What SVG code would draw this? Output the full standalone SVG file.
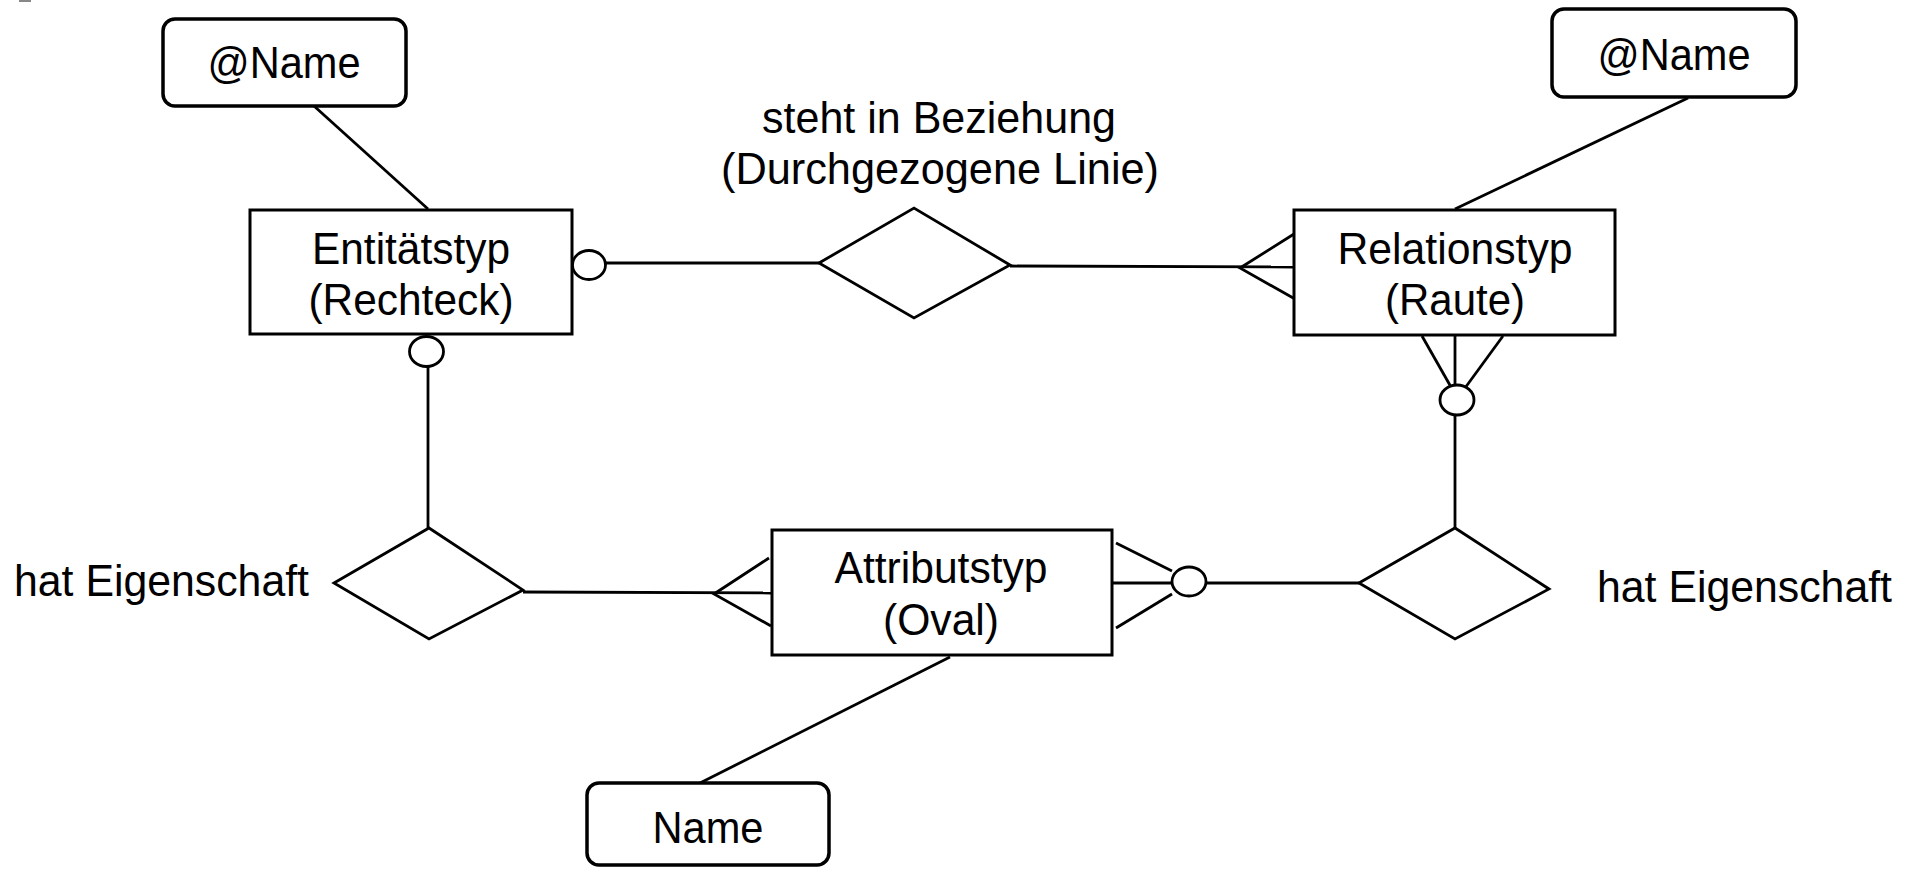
<svg xmlns="http://www.w3.org/2000/svg" width="1918" height="869" viewBox="0 0 1918 869">
<style>
.box{fill:#fff;stroke:#000;stroke-width:3}
.rbox{fill:#fff;stroke:#000;stroke-width:3.5}
.dia{fill:none;stroke:#000;stroke-width:2.8;stroke-linejoin:miter}
.ln{fill:none;stroke:#000;stroke-width:2.8}
.circ{fill:#fff;stroke:#000;stroke-width:2.8}
.t{font-family:"Liberation Sans",Arial,sans-serif;font-size:44px;fill:#000;text-anchor:middle}
.tl{font-family:"Liberation Sans",Arial,sans-serif;font-size:44px;fill:#000;text-anchor:start}
</style>
<rect width="1918" height="869" fill="#fff"/>
<rect x="19" y="0" width="12" height="2" fill="#888"/>
<g id="connectors">
  <line class="ln" x1="314" y1="106" x2="428" y2="209"/>
  <line class="ln" x1="1688" y1="98" x2="1455" y2="209"/>
  <line class="ln" x1="606" y1="263" x2="819" y2="263"/>
  <line class="ln" x1="1010" y1="266" x2="1294" y2="267"/>
  <polyline class="ln" points="1294,234 1240,268 1295,299"/>
  <line class="ln" x1="428" y1="366" x2="428" y2="528"/>
  <line class="ln" x1="1422" y1="336" x2="1451" y2="387"/>
  <line class="ln" x1="1455" y1="336" x2="1455" y2="385"/>
  <line class="ln" x1="1503" y1="336" x2="1465" y2="388"/>
  <line class="ln" x1="1455" y1="415" x2="1455" y2="528"/>
  <line class="ln" x1="523" y1="592" x2="771" y2="593"/>
  <polyline class="ln" points="769,558 714,594 771,626"/>
  <line class="ln" x1="1116" y1="543" x2="1172" y2="571"/>
  <line class="ln" x1="1112" y1="583" x2="1172" y2="583"/>
  <line class="ln" x1="1116" y1="628" x2="1172" y2="594"/>
  <line class="ln" x1="1206" y1="583" x2="1359" y2="583"/>
  <line class="ln" x1="950" y1="657" x2="700" y2="783"/>
</g>
<g id="name-entity">
  <rect class="rbox" x="163" y="19" width="243" height="87" rx="12"/>
  <text class="t" x="284" y="78" textLength="153" lengthAdjust="spacingAndGlyphs">@Name</text>
</g>
<g id="name-relation">
  <rect class="rbox" x="1552" y="9" width="244" height="88" rx="12"/>
  <text class="t" x="1674" y="70" textLength="153" lengthAdjust="spacingAndGlyphs">@Name</text>
</g>
<g id="name-attribute">
  <rect class="rbox" x="587" y="783" width="242" height="82" rx="12"/>
  <text class="t" x="708" y="843" textLength="111" lengthAdjust="spacingAndGlyphs">Name</text>
</g>
<g id="entitaetstyp">
  <rect class="box" x="250" y="210" width="322" height="124"/>
  <text class="t" x="411" y="264" textLength="198" lengthAdjust="spacingAndGlyphs">Entitätstyp</text>
  <text class="t" x="411" y="315" textLength="205" lengthAdjust="spacingAndGlyphs">(Rechteck)</text>
  <ellipse class="circ" cx="589" cy="265" rx="16.5" ry="14.5"/>
  <ellipse class="circ" cx="426.5" cy="351.5" rx="17" ry="15"/>
</g>
<g id="relationstyp">
  <rect class="box" x="1294" y="210" width="321" height="125"/>
  <text class="t" x="1455" y="264" textLength="235" lengthAdjust="spacingAndGlyphs">Relationstyp</text>
  <text class="t" x="1455" y="315" textLength="140" lengthAdjust="spacingAndGlyphs">(Raute)</text>
  <ellipse class="circ" cx="1457" cy="400" rx="17" ry="15"/>
</g>
<g id="attributstyp">
  <rect class="box" x="772" y="530" width="340" height="125"/>
  <text class="t" x="941" y="583" textLength="213" lengthAdjust="spacingAndGlyphs">Attributstyp</text>
  <text class="t" x="941" y="635" textLength="116" lengthAdjust="spacingAndGlyphs">(Oval)</text>
  <ellipse class="circ" cx="1189" cy="581.5" rx="17" ry="14.5"/>
</g>
<g id="steht-in-beziehung">
  <polygon class="dia" points="819,263 914,208 1010,265 914,318"/>
  <text class="t" x="939" y="133" textLength="354" lengthAdjust="spacingAndGlyphs">steht in Beziehung</text>
  <text class="t" x="940" y="184" textLength="438" lengthAdjust="spacingAndGlyphs">(Durchgezogene Linie)</text>
</g>
<g id="hat-eigenschaft-links">
  <polygon class="dia" points="334,583 429,528 523,590 429,639"/>
  <text class="tl" x="14" y="596" textLength="295" lengthAdjust="spacingAndGlyphs">hat Eigenschaft</text>
</g>
<g id="hat-eigenschaft-rechts">
  <polygon class="dia" points="1359,583 1455,528 1549,589 1455,639"/>
  <text class="tl" x="1597" y="602" textLength="295" lengthAdjust="spacingAndGlyphs">hat Eigenschaft</text>
</g>
</svg>
